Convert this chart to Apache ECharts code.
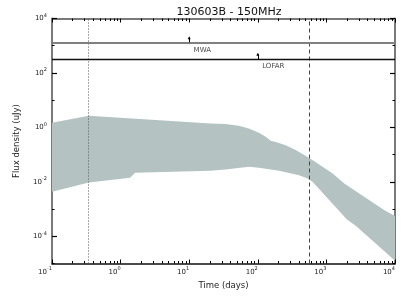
<!DOCTYPE html>
<html>
<head>
<meta charset="utf-8">
<script src="https://cdn.jsdelivr.net/npm/echarts@6/dist/echarts.min.js"></script>
<style>html,body{margin:0;padding:0;background:#fff}#c{width:414px;height:297px}</style>
</head>
<body>
<div id="c"></div>
<script>
// ---- data ----
const upperTime = [0.1, 0.344, 20.4, 33.7, 52.8, 74, 104, 130, 154, 182, 255, 357, 531, 702, 1233, 1820, 7020, 10000];
const upperFlux = [1.48, 2.67, 1.40, 1.32, 1.15, 0.918, 0.632, 0.451, 0.321, 0.288, 0.223, 0.148, 0.081, 0.052, 0.0204, 0.0087, 0.00091, 0.00055];
const lowerTime = [0.1, 0.344, 0.828, 1.37, 1.63, 20.4, 33.7, 74, 104, 204, 400, 531, 628, 1977, 2700, 9840, 10000];
const lowerFlux = [0.00429, 0.0095, 0.01225, 0.01425, 0.0214, 0.0254, 0.0286, 0.0356, 0.0327, 0.0254, 0.0176, 0.0133, 0.0100, 0.000426, 0.000241, 0.0000132, 0.0000112];

const limitNames = ['MWA', 'LOFAR'];
const limitFlux = [1333, 316];
const arrowTime = [10, 100];
const arrowTip = [1950, 483];
const labelTime = [11.6, 116];
const labelFlux = [692, 184];

const dottedLineTime = 0.344;
const dashedLineTime = 560;

const xMin = 0.1, xMax = 1e4;
const yMin = 1e-5, yMax = 1e4;
const yMajorTicks = [1e-4, 1e-2, 1, 1e2, 1e4];
const yMinorTicks = [1e-5, 1e-3, 1e-1, 1e1, 1e3];

const FONT = 'DejaVu Sans';
const supFormatter = v => '{b|10}{s|' + Math.round(Math.log10(v)) + '}';
const richLbl = {
  b: { fontSize: 7, lineHeight: 11, fontFamily: FONT, color: '#222' },
  s: { fontSize: 5, lineHeight: 5, verticalAlign: 'top', fontFamily: FONT, color: '#222' }
};

const chart = echarts.init(document.getElementById('c'), null, { renderer: 'canvas' });

const baseX = {
  type: 'log', logBase: 10, min: xMin, max: xMax, interval: 1,
  splitLine: { show: false },
  axisTick: { show: true, inside: true, length: 4, lineStyle: { color: '#000', width: 1 } },
  minorTick: { show: true, splitNumber: 9, length: 2.5, lineStyle: { color: '#000', width: 1 } },
  minorSplitLine: { show: false }
};

const yCommon = { type: 'log', logBase: 10, min: yMin, max: yMax, splitLine: { show: false } };

chart.setOption({
  animation: false,
  title: {
    text: '130603B - 150MHz', left: 224, textAlign: 'center', top: 2,
    textStyle: { fontFamily: FONT, fontSize: 11, fontWeight: 'normal', color: '#111' }
  },
  grid: { left: 52, right: 19, top: 18.5, bottom: 33.5, containLabel: false },
  xAxis: [
    Object.assign({}, baseX, {
      position: 'bottom',
      name: 'Time (days)', nameLocation: 'middle', nameGap: 18,
      nameTextStyle: { fontFamily: FONT, fontSize: 8.5, color: '#222' },
      axisLine: { show: true, lineStyle: { color: '#111', width: 1.5 } },
      axisLabel: { show: true, margin: 3, align: 'right', formatter: supFormatter, rich: richLbl, showMinLabel: true, showMaxLabel: true }
    }),
    Object.assign({}, baseX, {
      position: 'top',
      axisLine: { show: true, lineStyle: { color: '#7a7a7a', width: 2 } },
      axisLabel: { show: false }
    })
  ],
  yAxis: [
    Object.assign({}, yCommon, {
      position: 'left',
      name: 'Flux density (uJy)', nameLocation: 'middle', nameGap: 31, nameRotate: 90,
      nameTextStyle: { fontFamily: FONT, fontSize: 8.5, color: '#222' },
      axisLine: { show: true, lineStyle: { color: '#7a7a7a', width: 2 } },
      axisTick: { show: true, inside: true, length: 5, customValues: yMajorTicks, lineStyle: { color: '#000', width: 1.2 } },
      axisLabel: { show: true, margin: 5, customValues: yMajorTicks, formatter: supFormatter, rich: richLbl }
    }),
    Object.assign({}, yCommon, {
      position: 'left',
      axisLine: { show: false },
      axisTick: { show: true, inside: true, length: 2.5, customValues: yMinorTicks, lineStyle: { color: '#000', width: 1 } },
      axisLabel: { show: false }
    }),
    Object.assign({}, yCommon, {
      position: 'right',
      axisLine: { show: true, lineStyle: { color: '#7a7a7a', width: 2 } },
      axisTick: { show: true, inside: true, length: 5, customValues: yMajorTicks, lineStyle: { color: '#000', width: 1.2 } },
      axisLabel: { show: false }
    }),
    Object.assign({}, yCommon, {
      position: 'right',
      axisLine: { show: false },
      axisTick: { show: true, inside: true, length: 2.5, customValues: yMinorTicks, lineStyle: { color: '#000', width: 1 } },
      axisLabel: { show: false }
    })
  ],
  series: [
    {
      type: 'custom', name: 'band', coordinateSystem: 'cartesian2d',
      xAxisIndex: 0, yAxisIndex: 0, clip: true, silent: true, z: 2,
      data: [[upperTime[0], upperFlux[0]]],
      renderItem: function (params, api) {
        if (params.dataIndex !== 0) return;
        const pts = [];
        for (let i = 0; i < upperTime.length; i++) pts.push(api.coord([upperTime[i], upperFlux[i]]));
        for (let i = lowerTime.length - 1; i >= 0; i--) pts.push(api.coord([lowerTime[i], lowerFlux[i]]));
        return { type: 'polygon', shape: { points: pts }, style: { fill: '#b4c2c2', stroke: null } };
      },
      markLine: {
        silent: true, symbol: ['none', 'none'], label: { show: false }, animation: false, z: 5,
        data: [
          { xAxis: dottedLineTime, lineStyle: { color: '#555', width: 1, type: [1, 2] } },
          { xAxis: dashedLineTime, lineStyle: { color: '#444', width: 1, type: [4, 3] } },
          { yAxis: limitFlux[0], lineStyle: { color: '#808080', width: 2, type: 'solid' } },
          { yAxis: limitFlux[1], lineStyle: { color: '#111', width: 1.3, type: 'solid' } },
          [ { coord: [arrowTime[0], limitFlux[0]], lineStyle: { color: '#000', width: 1, type: 'solid' } }, { coord: [arrowTime[0], arrowTip[0]], symbol: 'triangle', symbolSize: [3, 3] } ],
          [ { coord: [arrowTime[1], limitFlux[1]], lineStyle: { color: '#000', width: 1, type: 'solid' } }, { coord: [arrowTime[1], arrowTip[1]], symbol: 'triangle', symbolSize: [3, 3] } ]
        ]
      }
    },
    {
      type: 'scatter', name: 'labels', xAxisIndex: 0, yAxisIndex: 0, symbolSize: 0, silent: true, z: 6,
      data: limitNames.map((n, i) => ({ name: n, value: [labelTime[i], labelFlux[i]] })),
      label: {
        show: true, position: 'inside', align: 'left', verticalAlign: 'middle', formatter: '{b}',
        fontFamily: FONT, fontSize: 7, color: '#111'
      }
    }
  ]
});
</script>
</body>
</html>
